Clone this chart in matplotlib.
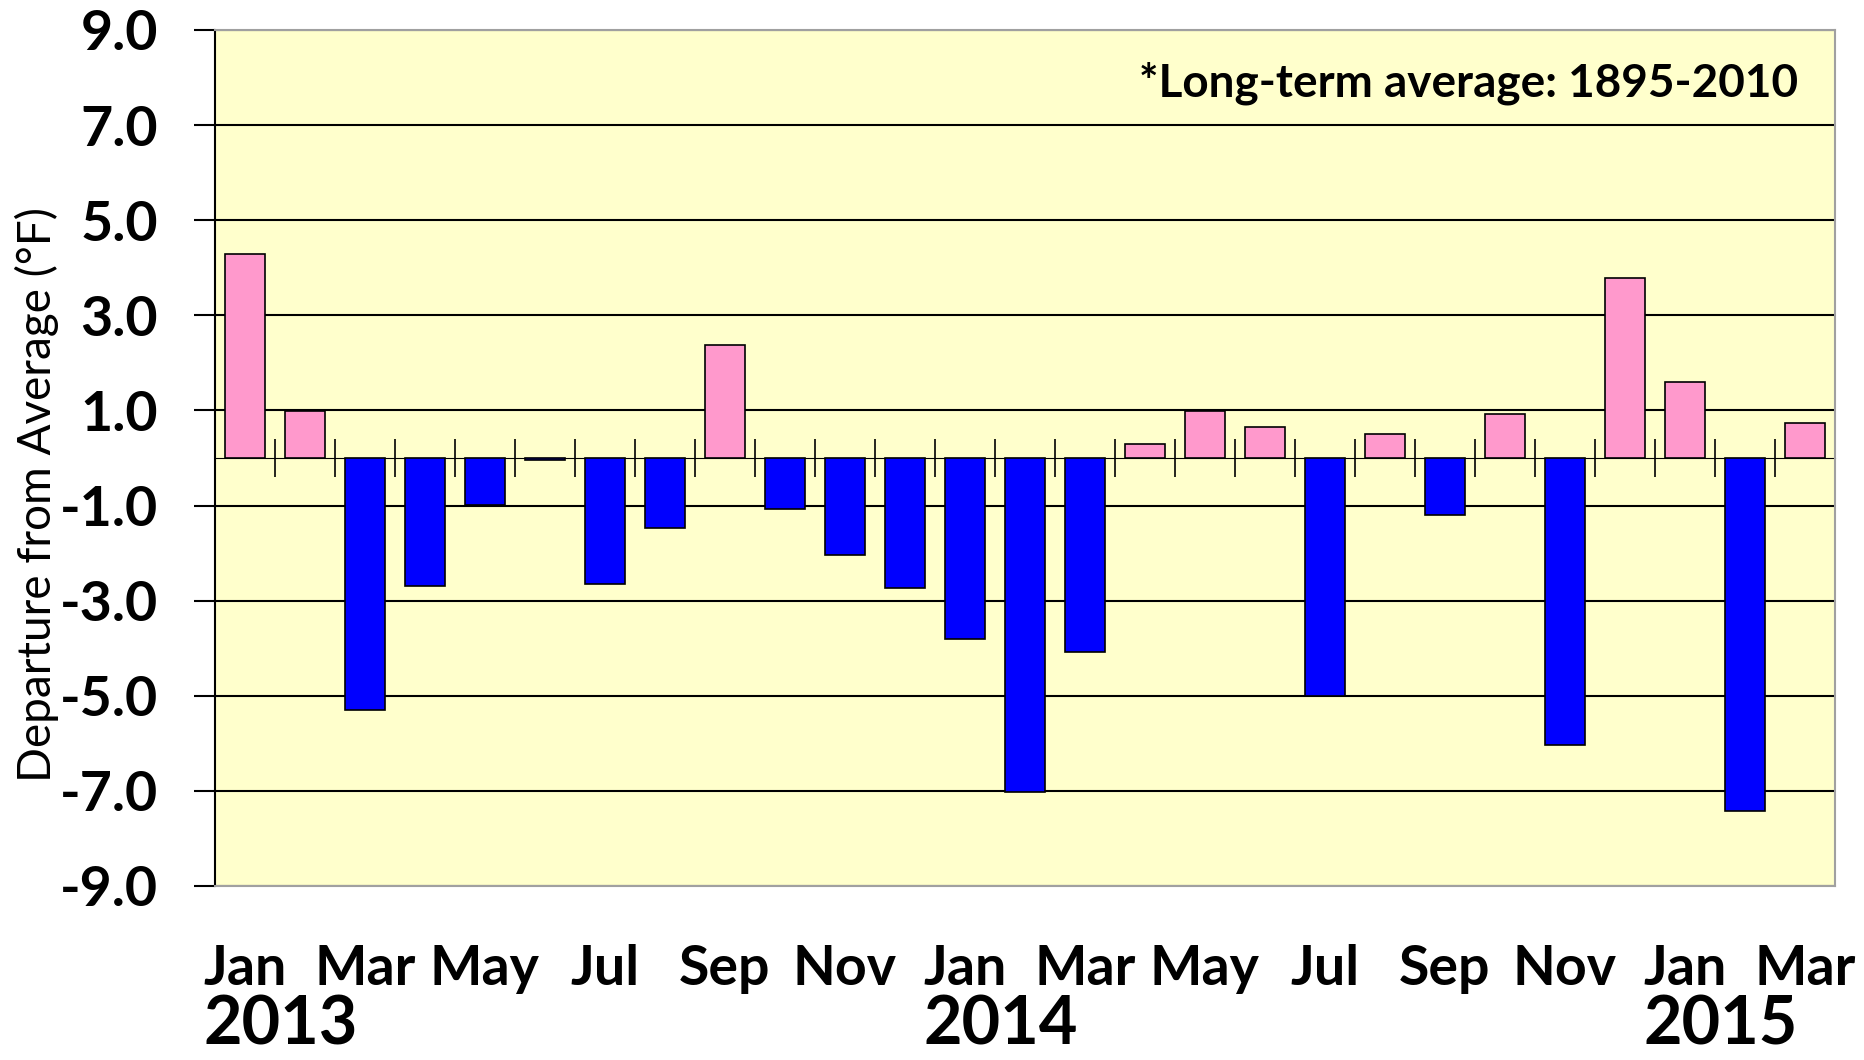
import numpy as np
import matplotlib
matplotlib.use('Agg')
import matplotlib.pyplot as plt
import matplotlib.transforms as mtransforms

plt.rcParams['font.family'] = ['Lato', 'DejaVu Sans']

# Monthly departures from the long-term average, Jan 2013 - Mar 2015
months = ['Jan', 'Feb', 'Mar', 'Apr', 'May', 'Jun', 'Jul', 'Aug', 'Sep', 'Oct', 'Nov', 'Dec',
          'Jan', 'Feb', 'Mar', 'Apr', 'May', 'Jun', 'Jul', 'Aug', 'Sep', 'Oct', 'Nov', 'Dec',
          'Jan', 'Feb', 'Mar']
departures = [4.28, 0.98, -5.30, -2.70, -0.98, -0.05, -2.65, -1.48, 2.38, -1.08, -2.03, -2.73,
              -3.80, -7.02, -4.07, 0.30, 0.98, 0.65, -5.00, 0.50, -1.20, 0.93, -6.03, 3.78,
              1.60, -7.43, 0.73]
years = ['2013', '2014', '2015']
year_start_idx = [0, 12, 24]
y_ticks = [9.0, 7.0, 5.0, 3.0, 1.0, -1.0, -3.0, -5.0, -7.0, -9.0]
note = '*Long-term average: 1895-2010'

warm_color = '#FF99CC'
cold_color = '#0000FF'

fig = plt.figure(figsize=(18.64, 10.60), dpi=100)
ax = fig.add_axes([0.1153, 0.1642, 0.8691, 0.8075])
ax.set_facecolor('#FFFFCC')

x = np.arange(len(departures))
colors = [warm_color if v >= 0 else cold_color for v in departures]
ax.bar(x, departures, width=0.66, color=colors, edgecolor='black', linewidth=1.2, zorder=3)

ax.set_xlim(-0.5, len(departures) - 0.5)
ax.set_ylim(-9, 9)

# horizontal grid lines
ax.set_yticks(y_ticks)
ax.set_yticklabels(['%.1f' % t for t in y_ticks], fontsize=40, fontweight='bold')
ax.grid(axis='y', color='black', linewidth=1.5, zorder=1)
ax.tick_params(axis='y', direction='out', length=15, width=1.5, pad=26)

# month labels every other month
ax.set_xticks(x[::2])
ax.set_xticklabels(months[::2], fontsize=40, fontweight='bold')
ax.tick_params(axis='x', length=0, pad=42)

for side in ['top', 'right', 'bottom']:
    ax.spines[side].set_color('#A0A0A0')
    ax.spines[side].set_linewidth(1.5)
ax.spines['left'].set_linewidth(1.5)

# zero line with category boundary ticks
zero_ax = ax.secondary_xaxis(0.5)
zero_ax.set_xticks(np.arange(len(departures) + 1) - 0.5)
zero_ax.set_xticklabels([])
zero_ax.tick_params(axis='x', direction='inout', length=28, width=1.2)
zero_ax.spines['bottom'].set_linewidth(1.5)

# year labels
trans = mtransforms.blended_transform_factory(ax.transData, ax.transAxes)
for yr, idx in zip(years, year_start_idx):
    ax.text(idx + 0.6, -0.199, yr, transform=trans, ha='center', va='bottom',
            fontsize=48, fontweight='bold')

ax.set_ylabel('Departure from Average (°F)', fontsize=33)
ax.yaxis.set_label_coords(-0.0965, 0.457)

ax.text(0.977, 0.938, note, transform=ax.transAxes, ha='right', va='center',
        fontsize=33, fontweight='bold')

fig.savefig('out.png', dpi=100)
